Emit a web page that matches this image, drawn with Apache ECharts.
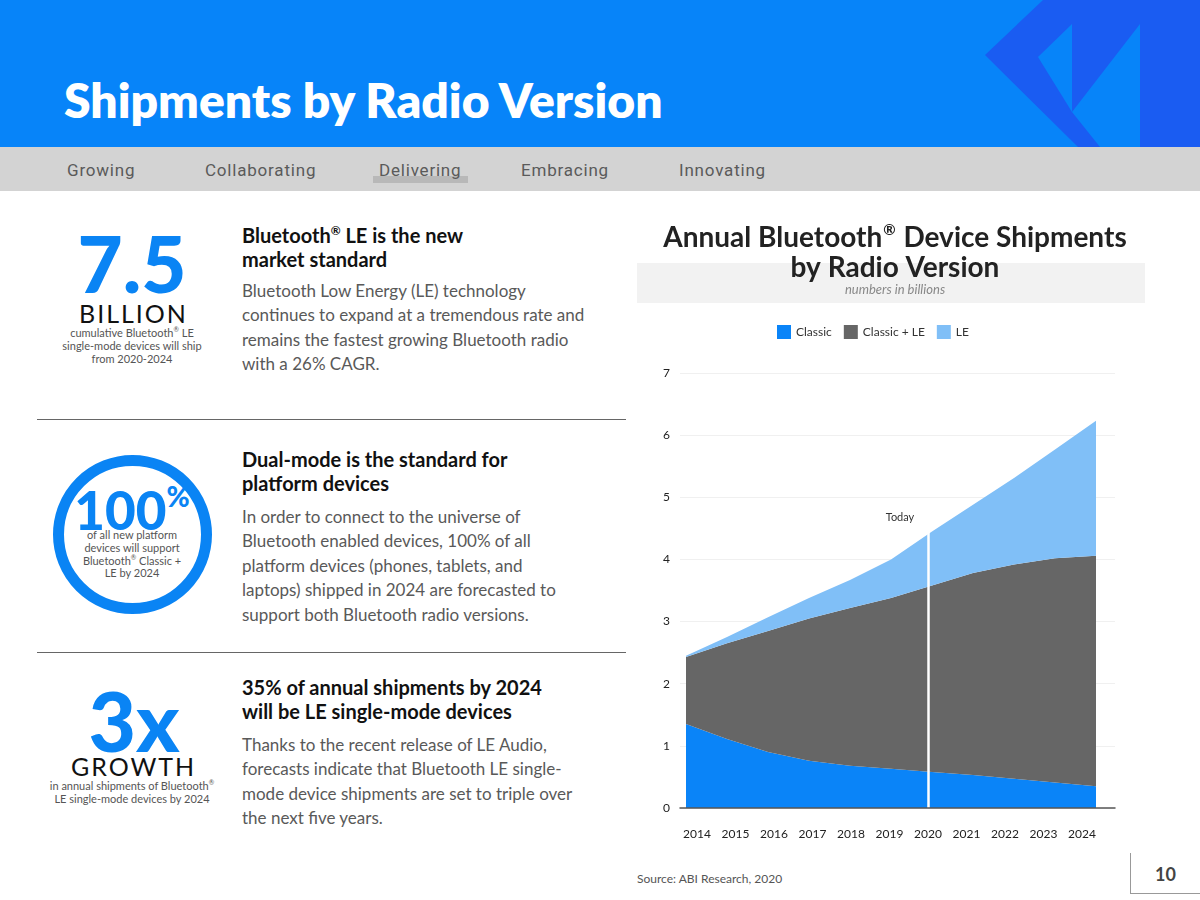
<!DOCTYPE html>
<html>
<head>
<meta charset="utf-8">
<script src="https://cdn.jsdelivr.net/npm/echarts@6/dist/echarts.min.js"></script>
<style>
  html,body{margin:0;padding:0;width:1200px;height:900px;overflow:hidden;background:#fff;font-family:Lato,"Noto Sans",sans-serif;}
  .abs{position:absolute;}
  #header{left:0;top:0;width:1200px;height:147px;background:#0784f9;}
  #nav{left:0;top:147px;width:1200px;height:44px;background:#d3d3d3;}
  .nav{top:162px;font-family:Roboto,sans-serif;font-size:17px;line-height:17px;color:#5a5a5a;letter-spacing:0.8px;}
  .big{color:#0a84f4;font-weight:900;text-align:center;line-height:1;}
  .caps{color:#111;text-align:center;line-height:1;letter-spacing:2px;}
  .small{color:#555;font-size:11px;line-height:12.8px;text-align:center;}
  .h{color:#111;font-weight:700;font-size:20px;line-height:23.5px;left:242px;width:380px;}
  .b{color:#595959;font-size:17px;line-height:24.4px;left:242px;width:380px;}
  .rule{left:37px;width:589px;height:0;border-top:1.5px solid #666;}
  sup.r{font-size:0.6em;vertical-align:super;line-height:0;}
  #chart{left:0;top:0;width:1200px;height:900px;}
</style>
</head>
<body>
<div id="header" class="abs"></div>
<svg class="abs" style="left:0;top:0" width="1200" height="147">
  <polygon points="985,55 1043,0 1200,0 1200,147 1078,147" fill="#1a5cf2"/>
  <polygon points="1038,57 1072,24 1072,112" fill="#0784f9"/>
  <polygon points="1072,112 1140,24 1140,147 1100,147" fill="#0784f9"/>
</svg>
<div class="abs" style="left:64px;top:76px;font-size:48px;line-height:48px;font-weight:800;color:#fff;">Shipments by Radio Version</div>
<div id="nav" class="abs"></div>
<div class="abs" style="left:373px;top:176px;width:95px;height:7px;background:#b8b8b8;"></div>
<div class="abs nav" style="left:67px;">Growing</div>
<div class="abs nav" style="left:205px;">Collaborating</div>
<div class="abs nav" style="left:379px;">Delivering</div>
<div class="abs nav" style="left:521px;">Embracing</div>
<div class="abs nav" style="left:679px;">Innovating</div>

<div class="abs big" style="left:32px;width:200px;top:224px;font-size:78px;">7.5</div>
<div class="abs caps" style="left:32px;width:203px;top:301px;font-size:25px;">BILLION</div>
<div class="abs small" style="left:47px;width:170px;top:327px;">cumulative Bluetooth<sup class="r">®</sup> LE<br>single-mode devices will ship<br>from 2020-2024</div>
<div class="abs h" style="top:224px;">Bluetooth<sup class="r">®</sup> LE is the new<br>market standard</div>
<div class="abs b" style="top:279px;">Bluetooth Low Energy (LE) technology<br>continues to expand at a tremendous rate and<br>remains the fastest growing Bluetooth radio<br>with a 26% CAGR.</div>
<div class="abs rule" style="top:419px;"></div>

<div class="abs" style="left:53px;top:455px;width:137px;height:137px;border:11px solid #0a84f4;border-radius:50%;"></div>
<div class="abs big" style="left:32px;width:200px;top:483px;font-size:53px;">100<span style="font-size:28px;vertical-align:top;position:relative;top:-1px;">%</span></div>
<div class="abs small" style="left:47px;width:170px;top:529px;">of all new platform<br>devices will support<br>Bluetooth<sup class="r">®</sup> Classic +<br>LE by 2024</div>
<div class="abs h" style="top:448px;">Dual-mode is the standard for<br>platform devices</div>
<div class="abs b" style="top:505px;">In order to connect to the universe of<br>Bluetooth enabled devices, 100% of all<br>platform devices (phones, tablets, and<br>laptops) shipped in 2024 are forecasted to<br>support both Bluetooth radio versions.</div>
<div class="abs rule" style="top:652px;"></div>

<div class="abs big" style="left:34px;width:200px;top:679px;font-size:82px;">3x</div>
<div class="abs caps" style="left:32px;width:203px;top:754px;font-size:25px;">GROWTH</div>
<div class="abs small" style="left:32px;width:200px;top:780px;">in annual shipments of Bluetooth<sup class="r">®</sup><br>LE single-mode devices by 2024</div>
<div class="abs h" style="top:676px;">35% of annual shipments by 2024<br>will be LE single-mode devices</div>
<div class="abs b" style="top:733px;">Thanks to the recent release of LE Audio,<br>forecasts indicate that Bluetooth LE single-<br>mode device shipments are set to triple over<br>the next five years.</div>

<div class="abs" style="left:637px;top:263px;width:508px;height:40px;background:#f2f2f2;"></div>
<div class="abs" style="left:637px;top:871px;font-size:12px;color:#555;">Source: ABI Research, 2020</div>
<div class="abs" style="left:1130px;top:853px;width:70px;height:40px;border-left:1.5px solid #999;border-bottom:1.5px solid #999;"></div>
<div class="abs" style="left:1131px;top:863px;width:69px;text-align:center;font-size:18px;font-weight:700;color:#444;">10</div>

<div id="chart" class="abs"></div>
<script>
const years = ['2014','2015','2016','2017','2018','2019','2020','2021','2022','2023','2024'];
const classic   = [1.35, 1.11, 0.90, 0.76, 0.68, 0.63, 0.58, 0.53, 0.47, 0.41, 0.35];
const classicLE = [1.08, 1.54, 1.95, 2.29, 2.54, 2.75, 3.00, 3.25, 3.45, 3.61, 3.71];
const le        = [0.02, 0.10, 0.22, 0.33, 0.45, 0.62, 0.87, 1.10, 1.39, 1.75, 2.17];
const yTicks = [0,1,2,3,4,5,6,7];
const todayYear = '2020';

const todayIdx = years.indexOf(todayYear);
const todayTotal = classic[todayIdx] + classicLE[todayIdx] + le[todayIdx];
const yearNums = years.map(Number);

const chart = echarts.init(document.getElementById('chart'), null, {renderer:'canvas'});
const font = 'Lato, "Noto Sans", sans-serif';
const area = (name, data, color) => ({
  name, type:'line', stack:'total', data, xAxisIndex:0, yAxisIndex:0,
  symbol:'none', lineStyle:{width:0}, areaStyle:{color, opacity:1}, itemStyle:{color}, z:2
});
chart.setOption({
  backgroundColor:'transparent',
  animation:false,
  textStyle:{fontFamily:font},
  title:{
    text:'{a|Annual Bluetooth}{s|®}{a| Device Shipments}\n{a|by Radio Version}',
    subtext:'numbers in billions',
    left:890, top:218, textAlign:'center', itemGap:0,
    textStyle:{fontSize:28, fontWeight:'bold', color:'#222', lineHeight:30, fontFamily:font,
      rich:{
        a:{fontSize:28, fontWeight:'bold', color:'#222', lineHeight:30, fontFamily:font},
        s:{fontSize:15, fontWeight:'bold', color:'#222', lineHeight:30, verticalAlign:'top', padding:[0,1,12,1], fontFamily:font}
      }},
    subtextStyle:{fontSize:13, fontStyle:'italic', color:'#888', lineHeight:14, fontFamily:font}
  },
  legend:{
    data:['Classic','Classic + LE','LE'],
    left:772, top:320, icon:'rect', itemWidth:14, itemHeight:14, itemGap:12,
    textStyle:{fontSize:12, color:'#333', fontFamily:font}
  },
  grid:[
    {left:686, right:104, top:373, bottom:92},
    {left:680, right:85, top:373, bottom:92}
  ],
  xAxis:[
    {gridIndex:0, type:'category', data:years, boundaryGap:false, show:false},
    {gridIndex:1, type:'value', min:2013.558, max:2024.857, z:5,
     axisLine:{show:true, lineStyle:{color:'#555', width:1.5}},
     axisTick:{show:false}, splitLine:{show:false},
     axisLabel:{customValues:yearNums, formatter:v=>String(v), color:'#222', fontSize:12, margin:20}}
  ],
  yAxis:[
    {gridIndex:0, type:'value', min:0, max:7, show:false},
    {gridIndex:1, type:'value', min:yTicks[0], max:yTicks[yTicks.length-1], interval:1,
     axisLine:{show:false}, axisTick:{show:false},
     splitLine:{show:true, lineStyle:{color:'#f0f0f0', width:1}},
     axisLabel:{color:'#222', fontSize:12, margin:10}}
  ],
  series:[
    area('Classic', classic, '#0a84f8'),
    area('Classic + LE', classicLE, '#666666'),
    area('LE', le, '#80bff7'),
    {name:'today', type:'line', xAxisIndex:1, yAxisIndex:1, data:[[Number(todayYear),0]],
     symbolSize:0, lineStyle:{width:0}, z:4,
     markLine:{silent:true, symbol:['none','none'], animation:false,
       lineStyle:{color:'#ffffff', width:2.5, type:'solid'},
       label:{show:true, position:'end', formatter:'Today', color:'#333', fontSize:11, offset:[-28,-4]},
       data:[[{coord:[Number(todayYear),0]},{coord:[Number(todayYear),todayTotal]}]]}}
  ]
});
</script>
</body>
</html>
